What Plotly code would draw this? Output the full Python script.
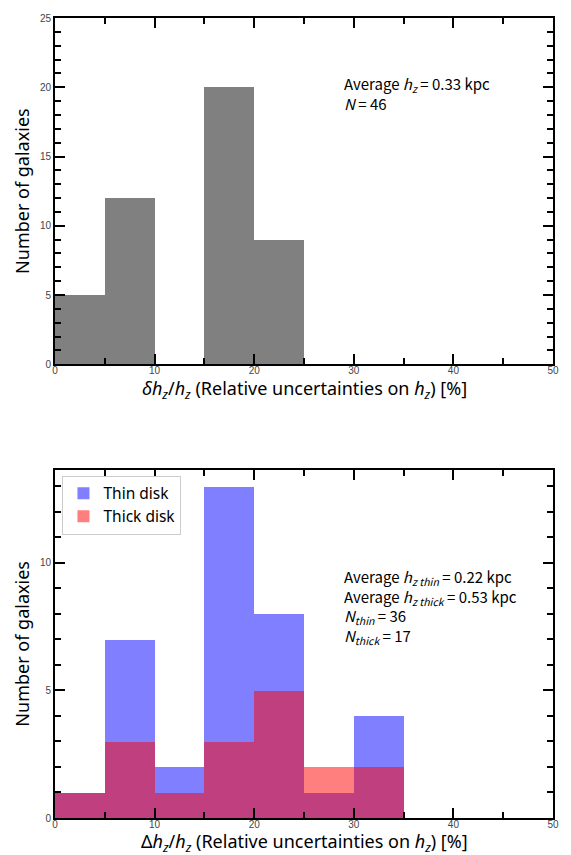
import plotly.graph_objects as go
from plotly.subplots import make_subplots

# Histogram bins (relative uncertainty, %)
bin_left = [0, 5, 10, 15, 20, 25, 30]
bin_width = 5

# Single-disk fits
counts_all = [5, 12, 0, 20, 9, 0, 0]
# Two-disk fits
counts_thin = [1, 7, 2, 13, 8, 1, 4]
counts_thick = [1, 3, 1, 3, 5, 2, 2]

centers = [b + bin_width / 2 for b in bin_left]

TITLE_FONT = "Noto Sans"
NOTE_FONT = "Noto Sans CJK JP"
TICK_FONT = "Liberation Sans"

fig = make_subplots(rows=2, cols=1, vertical_spacing=0.13)

fig.add_trace(go.Bar(x=centers, y=counts_all, width=bin_width,
                     marker=dict(color="#808080", line=dict(width=0)),
                     showlegend=False), row=1, col=1)
fig.add_trace(go.Bar(x=centers, y=counts_thin, width=bin_width, name="Thin disk",
                     marker=dict(color="rgba(0,0,255,0.5)", line=dict(width=0))),
              row=2, col=1)
fig.add_trace(go.Bar(x=centers, y=counts_thick, width=bin_width, name="Thick disk",
                     marker=dict(color="rgba(255,0,0,0.5)", line=dict(width=0))),
              row=2, col=1)

h_top = 804
top_lo = (818 - 362) / h_top
bot_hi = (818 - 468) / h_top

title_font = dict(family=TITLE_FONT, size=18, color="black")
tick_font = dict(family=TICK_FONT, size=10, color="#444444")

frame = dict(showgrid=False, zeroline=False, showline=True, linecolor="black",
             linewidth=2, mirror="ticks", ticks="inside", ticklen=10, tickwidth=1.5,
             tickcolor="black", tickfont=tick_font)

for r in (1, 2):
    fig.update_xaxes(range=[0, 50], dtick=10, ticklabelstandoff=-4,
                     minor=dict(dtick=5, ticks="inside", ticklen=6, tickwidth=1.5,
                                tickcolor="black"),
                     row=r, col=1, **frame)
    fig.update_yaxes(dtick=5,
                     minor=dict(dtick=1, ticks="inside", ticklen=6, tickwidth=1.5,
                                tickcolor="black"),
                     title=dict(text="Number of galaxies", font=title_font, standoff=6),
                     row=r, col=1, **frame)

fig.update_yaxes(range=[0, 25], domain=[top_lo, 1], row=1, col=1)
fig.update_yaxes(range=[0, 13.65], domain=[0, bot_hi], row=2, col=1)

# x-axis titles, placed just under each panel
xtitles = [
    ("x", "y", "<i>δh<sub>z</sub></i>/<i>h<sub>z</sub></i> (Relative uncertainties on <i>h<sub>z</sub></i>) [%]", -25),
    ("x2", "y2", "Δ<i>h<sub>z</sub></i>/<i>h<sub>z</sub></i> (Relative uncertainties on <i>h<sub>z</sub></i>) [%]", -24),
]
for xr, yr, txt, shift in xtitles:
    fig.add_annotation(x=0.5, y=0, xref=f"{xr} domain", yref=f"{yr} domain",
                       xanchor="center", yanchor="middle", yshift=shift,
                       showarrow=False, text=txt, font=title_font)

note_font = dict(family=NOTE_FONT, size=15, color="black")
fig.add_annotation(x=28.8, y=21.2, xref="x", yref="y", xanchor="left", yanchor="top",
                   align="left", showarrow=False,
                   text="Average <i>h<sub>z</sub></i> = 0.33 kpc<br><i>N</i> = 46",
                   font=note_font)
fig.add_annotation(x=28.8, y=9.95, xref="x2", yref="y2", xanchor="left", yanchor="top",
                   align="left", showarrow=False,
                   text=("Average <i>h<sub>z thin</sub></i> = 0.22 kpc<br>"
                         "Average <i>h<sub>z thick</sub></i> = 0.53 kpc<br>"
                         "<i>N<sub>thin</sub></i> = 36<br>"
                         "<i>N<sub>thick</sub></i> = 17"),
                   font=note_font)

fig.update_layout(
    width=571, height=855,
    margin=dict(l=55, r=14, t=14, b=37),
    plot_bgcolor="white", paper_bgcolor="white",
    barmode="overlay", bargap=0,
    font=dict(family=TITLE_FONT),
    legend=dict(x=0.015, y=0.428, xanchor="left", yanchor="top",
                bgcolor="white", bordercolor="#cccccc", borderwidth=1,
                font=dict(family=TITLE_FONT, size=15.5, color="black"),
                itemwidth=30, tracegroupgap=0),
)

fig.write_html("out.html")
